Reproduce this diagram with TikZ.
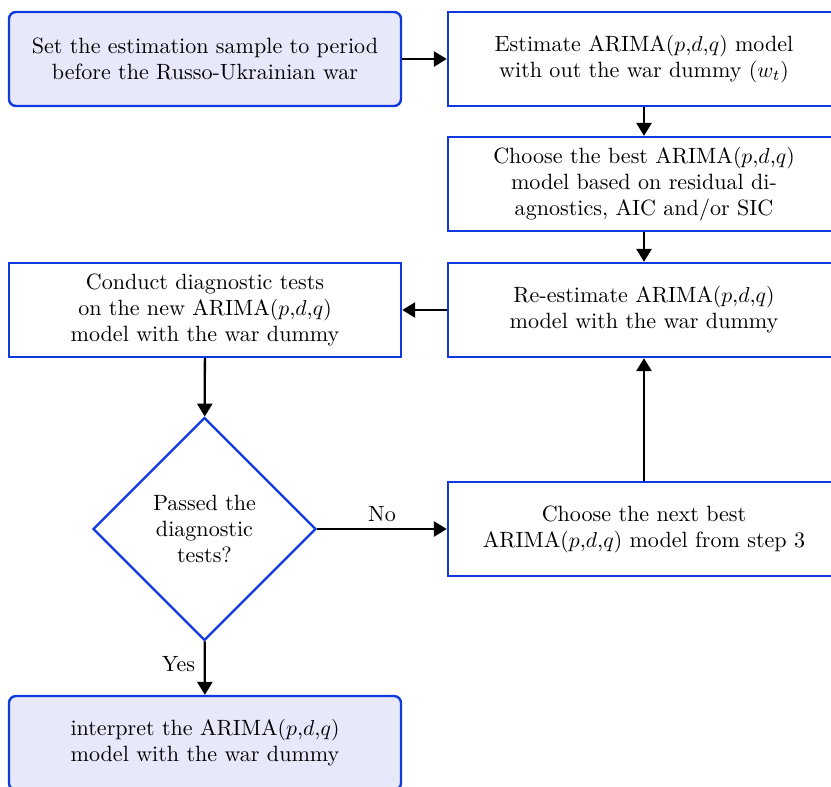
\documentclass[tikz,border=0pt]{standalone}
\usetikzlibrary{shapes.geometric,arrows.meta}
\definecolor{bordblue}{RGB}{16,58,222}
\definecolor{fillblue}{RGB}{231,233,251}
\begin{document}
\begin{tikzpicture}[x=0.4619pt,y=-0.4619pt,
  txt/.style={font=\fontsize{10.2}{12.1}\selectfont},
  procbox/.style={draw=bordblue,line width=1.1pt,minimum width=181.1pt,minimum height=43.4pt,align=center,inner sep=0pt,txt},
  termbox/.style={procbox,fill=fillblue,rounded corners=3.2pt},
  decis/.style={diamond,draw=bordblue,line width=1.1pt,aspect=1,minimum width=103pt,minimum height=103pt,inner sep=0pt,align=center,txt},
  flow/.style={-{Triangle[length=6pt,width=7pt]},line width=1.05pt,black},
  lbl/.style={txt,inner sep=1pt}]
\useasboundingbox (0,0) rectangle (831,786);
\clip (0,0) rectangle (831,786);
\node[termbox] (start) at (205,59) {Set the estimation sample to period\\before the Russo-Ukrainian war};
\node[procbox] (est) at (644,59) {Estimate ARIMA$(p$,$d$,$q)$ model\\with out the war dummy $(w_t)$};
\node[procbox] (best) at (644,184) {Choose the best ARIMA$(p$,$d$,$q)$\\model based on residual di-\\agnostics, AIC and/or SIC};
\node[procbox] (reest) at (644,310) {Re-estimate ARIMA$(p$,$d$,$q)$\\model with the war dummy};
\node[procbox] (diag) at (205,310) {Conduct diagnostic tests\\on the new ARIMA$(p$,$d$,$q)$\\model with the war dummy};
\node[decis] (dec) at (204.5,529) {Passed the\\diagnostic\\tests?};
\node[procbox] (next) at (644,529) {Choose the next best\\ARIMA$(p$,$d$,$q)$ model from step 3};
\node[termbox] (interp) at (205,743) {interpret the ARIMA$(p$,$d$,$q)$\\model with the war dummy};
\draw[flow] (start) -- (est);
\draw[flow] (est) -- (best);
\draw[flow] (best) -- (reest);
\draw[flow] (reest) -- (diag);
\draw[flow] (diag) -- (dec);
\draw[flow] (dec) -- node[lbl,above=2pt] {No} (next);
\draw[flow] (next) -- (reest);
\draw[flow] (dec) -- node[lbl,left=3pt,yshift=2pt] {Yes} (interp);
\end{tikzpicture}
\end{document}
